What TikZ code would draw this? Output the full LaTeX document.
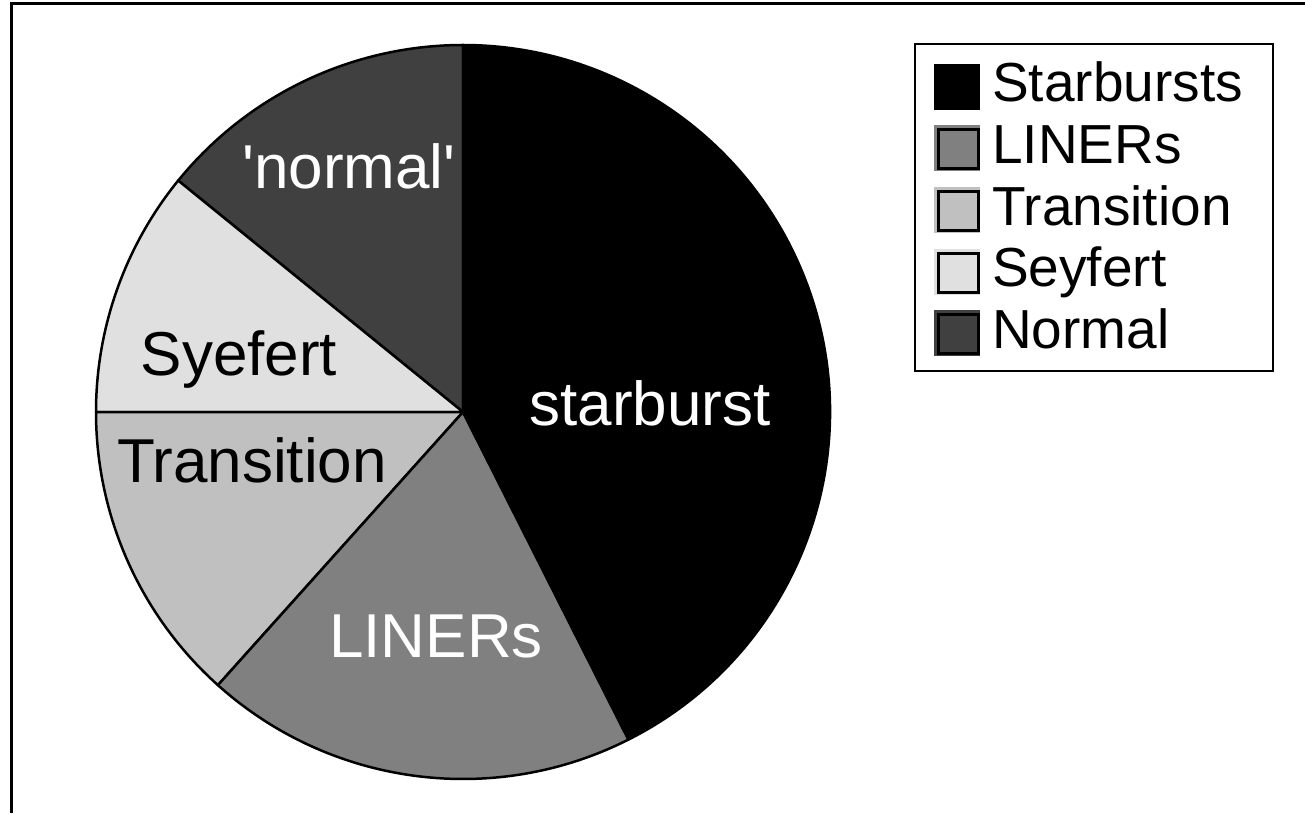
\documentclass[tikz,border=0pt]{standalone}
\usepackage{fontspec}
\setmainfont{Liberation Sans}
\definecolor{normgray}{HTML}{404040}
\definecolor{seygray}{HTML}{E0E0E0}
\definecolor{trangray}{HTML}{C0C0C0}
\definecolor{linergray}{HTML}{808080}
\begin{document}
\begin{tikzpicture}[x=1pt,y=-1pt]
\useasboundingbox (0,0) rectangle (1305,813);
\newcommand{\rpie}{367}
\tikzstyle{slice}=[draw=black,line width=2.5pt,line join=round]
\tikzstyle{pielabel}=[font=\fontsize{62}{70}\selectfont,inner sep=0pt,anchor=base]
\tikzstyle{legtext}=[font=\fontsize{55}{60}\selectfont,inner sep=0pt,anchor=base west]

  % outer frame, only top and left show
  \draw[line width=3pt] (11,813) -- (11,4) -- (1305,4);

  \begin{scope}[shift={(463,412)},yscale=-1]
    \foreach \a/\b/\c in {90/140.9/normgray, 140.9/180/seygray, 180/228.1/trangray,
                          228.1/296.8/linergray, 296.8/450/black}{
      \filldraw[slice,fill=\c] (0,0) -- (\a:\rpie) arc (\a:\b:\rpie) -- cycle;
    }
  \end{scope}

  \node[pielabel,white] (starburst) at (650,425) {starburst};
  \node[pielabel,white] (normal) at (349,188) {\textquotesingle normal\textquotesingle};
  \node[pielabel] (syefert) at (239,375) {Syefert};
  \node[pielabel] (transition) at (252,482) {Transition};
  \node[pielabel,white] (liners) at (436,657) {LINERs};

  % legend
  \draw[line width=2.5pt] (915,44) rectangle (1273,371);
  \foreach \c/\t [count=\i from 0] in {black/Starbursts, linergray/LINERs, trangray/Transition,
                                       seygray/Seyfert, normgray/Normal}{
    \fill[\c] (934,{64+61.5*\i}) rectangle ++(46,46);
    \draw[line width=3pt] (938.5,{68.5+61.5*\i}) rectangle ++(40,39);
    \node[legtext] (leg\i) at (992,{102+61.5*\i}) {\t};
  }

\end{tikzpicture}
\end{document}
